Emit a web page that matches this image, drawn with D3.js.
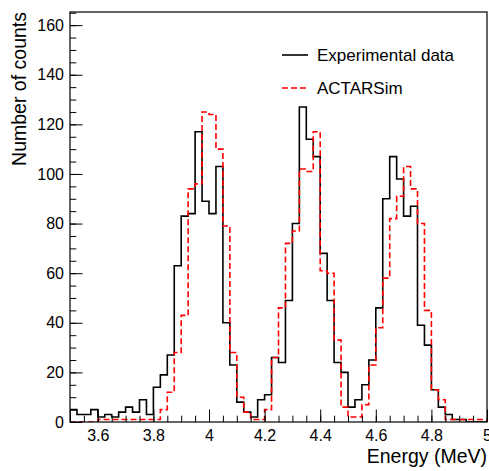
<!DOCTYPE html>
<html>
<head>
<meta charset="utf-8">
<script src="https://cdn.jsdelivr.net/npm/d3@7"></script>
<style>
  body { margin: 0; background: #fff; }
  text { font-family: "Liberation Sans", Arial, Helvetica, sans-serif; fill: #000; }
</style>
</head>
<body>
<div id="chart-container"></div>
<script>
// histogram binning (MeV)
const binLow = 3.5
const binWidth = 0.025

// counts per bin
const expCounts = [
  5, 3, 3, 5, 2, 3, 2, 4, 6, 4,
  9, 3, 14, 19, 27, 63, 83, 84, 117, 89,
  84, 103, 40, 23, 8, 4, 2, 9, 11, 26,
  24, 49, 80, 127, 114, 107, 68, 49, 24, 20,
  6, 9, 15, 25, 46, 90, 107, 98, 83, 87,
  39, 31, 13, 6, 3, 1, 1, 0, 0, 0
]
const simCounts = [
  0, 0, 0, 0, 1, 1, 1, 1, 1, 1,
  1, 1, 1, 5, 12, 28, 43, 94, 96, 125,
  124, 110, 79, 28, 10, 4, 1, 1, 5, 26,
  46, 72, 77, 102, 101, 117, 61, 60, 33, 6,
  2, 2, 7, 23, 38, 58, 82, 91, 103, 94,
  80, 45, 13, 9, 1, 1, 1, 1, 1, 1
]

const xTicks = [3.6, 3.8, 4, 4.2, 4.4, 4.6, 4.8, 5]
const yTicks = [0, 20, 40, 60, 80, 100, 120, 140, 160]
const legendLabels = ["Experimental data", "ACTARSim"]

const margin = {top: 12, right: 2, bottom: 49, left: 70},
  width = 489 - margin.left - margin.right,
  height = 471 - margin.top - margin.bottom

const svg = d3.select("#chart-container")
  .append("svg")
    .attr("width", 489)
    .attr("height", 471)
  .append("g")
    .attr("transform", `translate(${margin.left},${margin.top})`)

const x = d3.scaleLinear().domain([3.5, 5]).range([0, width])
const y = d3.scaleLinear().domain([0, 165.3]).range([height, 0])

// step outline like ROOT's histogram drawing
function stepPath(counts) {
  const pts = [[binLow, 0]]
  counts.forEach((c, i) => pts.push([binLow + i * binWidth, c]))
  const last = binLow + counts.length * binWidth
  pts.push([last, counts[counts.length - 1]])
  pts.push([last, 0])
  return d3.line()
    .x(d => x(d[0]))
    .y(d => y(d[1]))
    .curve(d3.curveStepAfter)(pts)
}

svg.append("clipPath").attr("id", "frame-clip")
  .append("rect").attr("width", width).attr("height", height)

svg.append("path")
  .attr("d", stepPath(expCounts))
  .attr("clip-path", "url(#frame-clip)")
  .style("fill", "none")
  .style("stroke", "#000")
  .style("stroke-width", 1.6)

svg.append("path")
  .attr("d", stepPath(simCounts))
  .attr("clip-path", "url(#frame-clip)")
  .style("fill", "none")
  .style("stroke", "#ff0000")
  .style("stroke-width", 1.6)
  .style("stroke-dasharray", "6,3")

// minor ticks
const xMinor = d3.range(0, 31).map(i => 3.5 + i * 0.05)
const yMinor = d3.range(0, 34).map(i => i * 5)

svg.append("g")
  .attr("transform", `translate(0,${height})`)
  .call(d3.axisBottom(x).tickValues(xMinor).tickSizeInner(-6.3).tickSizeOuter(0).tickFormat(""))
  .call(g => g.select(".domain").remove())

svg.append("g")
  .call(d3.axisLeft(y).tickValues(yMinor).tickSizeInner(-6.3).tickSizeOuter(0).tickFormat(""))
  .call(g => g.select(".domain").remove())

// major ticks + labels
svg.append("g")
  .attr("transform", `translate(0,${height})`)
  .call(d3.axisBottom(x).tickValues(xTicks).tickSizeInner(-12.5).tickSizeOuter(0).tickPadding(8)
    .tickFormat(d => d % 1 === 0 ? d3.format("d")(d) : d3.format(".1f")(d)))
  .call(g => g.select(".domain").remove())
  .call(g => g.selectAll("text").style("font-size", "16px"))

svg.append("g")
  .call(d3.axisLeft(y).tickValues(yTicks).tickSizeInner(-12.5).tickSizeOuter(0).tickPadding(6))
  .call(g => g.select(".domain").remove())
  .call(g => g.selectAll("text").style("font-size", "16px"))

svg.selectAll(".tick line").style("stroke", "#000").style("stroke-width", 1)

// frame
svg.append("rect")
  .attr("width", width)
  .attr("height", height)
  .style("fill", "none")
  .style("stroke", "#000")
  .style("stroke-width", 1.2)

// axis titles
svg.append("text")
  .attr("x", width)
  .attr("y", height + 41)
  .style("text-anchor", "end")
  .style("font-size", "19.5px")
  .text("Energy (MeV)")

svg.append("text")
  .attr("transform", `translate(${25.7 - margin.left},0) rotate(-90)`)
  .style("text-anchor", "end")
  .style("font-size", "19.5px")
  .text("Number of counts")

// legend
const legend = svg.append("g").attr("transform", `translate(${282 - margin.left},${55 - margin.top})`)
const legendStyles = [
  {color: "#000", dash: null},
  {color: "#ff0000", dash: "6,3"}
]
legendLabels.forEach((label, i) => {
  const row = legend.append("g").attr("transform", `translate(0,${i * 33})`)
  row.append("line")
    .attr("x1", 0).attr("x2", 26)
    .style("stroke", legendStyles[i].color)
    .style("stroke-width", 1.6)
    .style("stroke-dasharray", legendStyles[i].dash)
  row.append("text")
    .attr("x", 35)
    .attr("dy", "0.36em")
    .style("font-size", "17px")
    .text(label)
})
</script>
</body>
</html>
